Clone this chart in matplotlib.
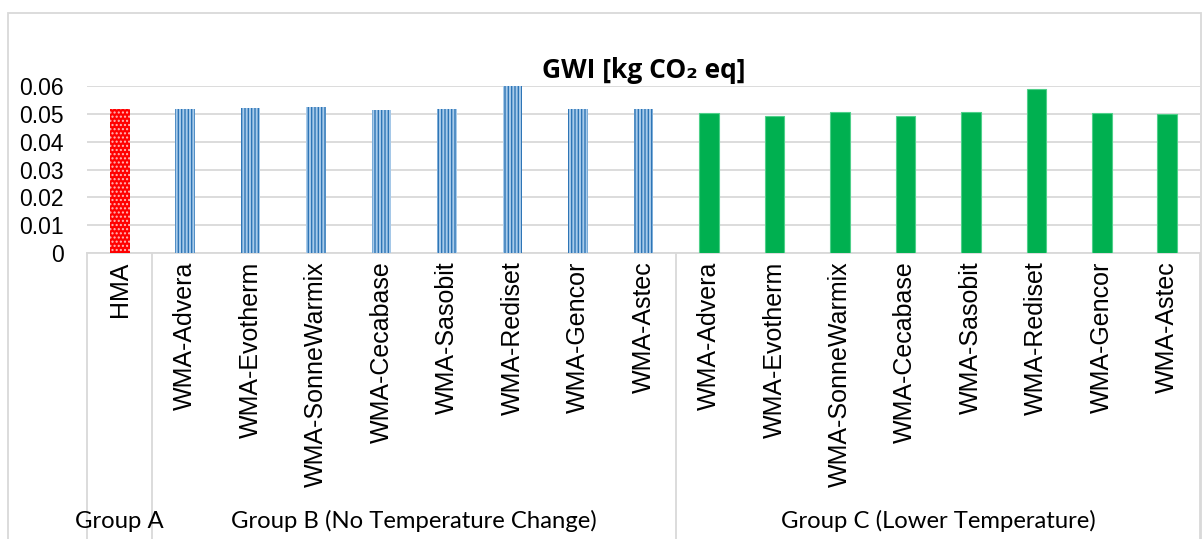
import matplotlib
matplotlib.use("Agg")
import matplotlib.pyplot as plt
from matplotlib.patches import Rectangle
import matplotlib.transforms as mtransforms

categories = ["HMA",
              "WMA-Advera", "WMA-Evotherm", "WMA-SonneWarmix", "WMA-Cecabase",
              "WMA-Sasobit", "WMA-Rediset", "WMA-Gencor", "WMA-Astec",
              "WMA-Advera", "WMA-Evotherm", "WMA-SonneWarmix", "WMA-Cecabase",
              "WMA-Sasobit", "WMA-Rediset", "WMA-Gencor", "WMA-Astec"]
group_a = [0.0517]
group_b = [0.0517, 0.0520, 0.0523, 0.0513, 0.0517, 0.0600, 0.0517, 0.0517]
group_c = [0.0502, 0.0492, 0.0507, 0.0491, 0.0505, 0.0591, 0.0502, 0.0498]
group_names = ["Group A", "Group B (No Temperature Change)", "Group C (Lower Temperature)"]
yticks = [0, 0.01, 0.02, 0.03, 0.04, 0.05, 0.06]
ytick_labels = ["0", "0.01", "0.02", "0.03", "0.04", "0.05", "0.06"]

FONT = ["Liberation Sans", "DejaVu Sans"]
plt.rcParams['font.family'] = FONT
plt.rcParams['hatch.linewidth'] = 1.0

W, H = 1202, 539
fig = plt.figure(figsize=(W / 100, H / 100), dpi=100)
L, R, T, B = 87, 1200, 86, 253
ax = fig.add_axes([L / W, 1 - B / H, (R - L) / W, (B - T) / H])

bw = 0.3
xa = [0]
xb = list(range(1, 1 + len(group_b)))
xc = list(range(1 + len(group_b), 1 + len(group_b) + len(group_c)))

ax.bar(xa, group_a, width=bw, color="#FF0000", edgecolor="#FFB8B8", hatch="....", linewidth=0, zorder=3)
ax.bar(xb, group_b, width=bw, color="#A9CBEA", edgecolor="#2E75B6", hatch="|||||", linewidth=0, zorder=3)
ax.bar(xc, group_c, width=bw, color="#00B050", edgecolor="#4FD08A", linewidth=0.8, zorder=3)

ax.set_xlim(-0.5, len(categories) - 0.5)
ax.set_ylim(0, 0.06)
ax.set_yticks(yticks)
ax.set_yticklabels(ytick_labels, fontsize=16.5)
ax.set_xticks(range(len(categories)))
ax.set_xticklabels(categories, rotation=90, fontsize=18, va="top", ha="center")
ax.tick_params(axis="y", length=0, pad=17)
ax.tick_params(axis="x", length=0, pad=6)
ax.grid(axis="y", color="#D9D9D9", linewidth=1.3, zorder=0)
for s in ["top", "right", "left"]:
    ax.spines[s].set_visible(False)
ax.spines["bottom"].set_color("#D9D9D9")
ax.spines["bottom"].set_linewidth(1.3)

trans = mtransforms.blended_transform_factory(ax.transData, ax.transAxes)
seps = [-0.5, 0.5, 0.5 + len(group_b), len(categories) - 0.5]
for xs in seps:
    ax.plot([xs, xs], [0, -1.75], transform=trans, color="#D9D9D9", lw=1.3, clip_on=False)

# group labels
gy = -(521 - B) / (B - T)
spans = [(seps[0], seps[1]), (seps[1], seps[2]), (seps[2], seps[3])]
for name, (a, b) in zip(group_names, spans):
    ax.text((a + b) / 2, gy, name, transform=trans, ha="center", va="center",
            fontsize=17.2, family=["Lato", "DejaVu Sans"])

fig.text((L + R) / 2 / W, 1 - 70 / H, "GWI [kg CO\u2082 eq]", ha="center", va="center",
         fontsize=19, fontweight="bold", family=["Open Sans", "DejaVu Sans"])

fig.patches.append(Rectangle((7.5 / W, -0.01), (1201 - 7.5) / W, 1.01 - 12.5 / H,
                             transform=fig.transFigure, fill=False, edgecolor="#D9D9D9", lw=1.3))

fig.savefig("out.png", dpi=100)
